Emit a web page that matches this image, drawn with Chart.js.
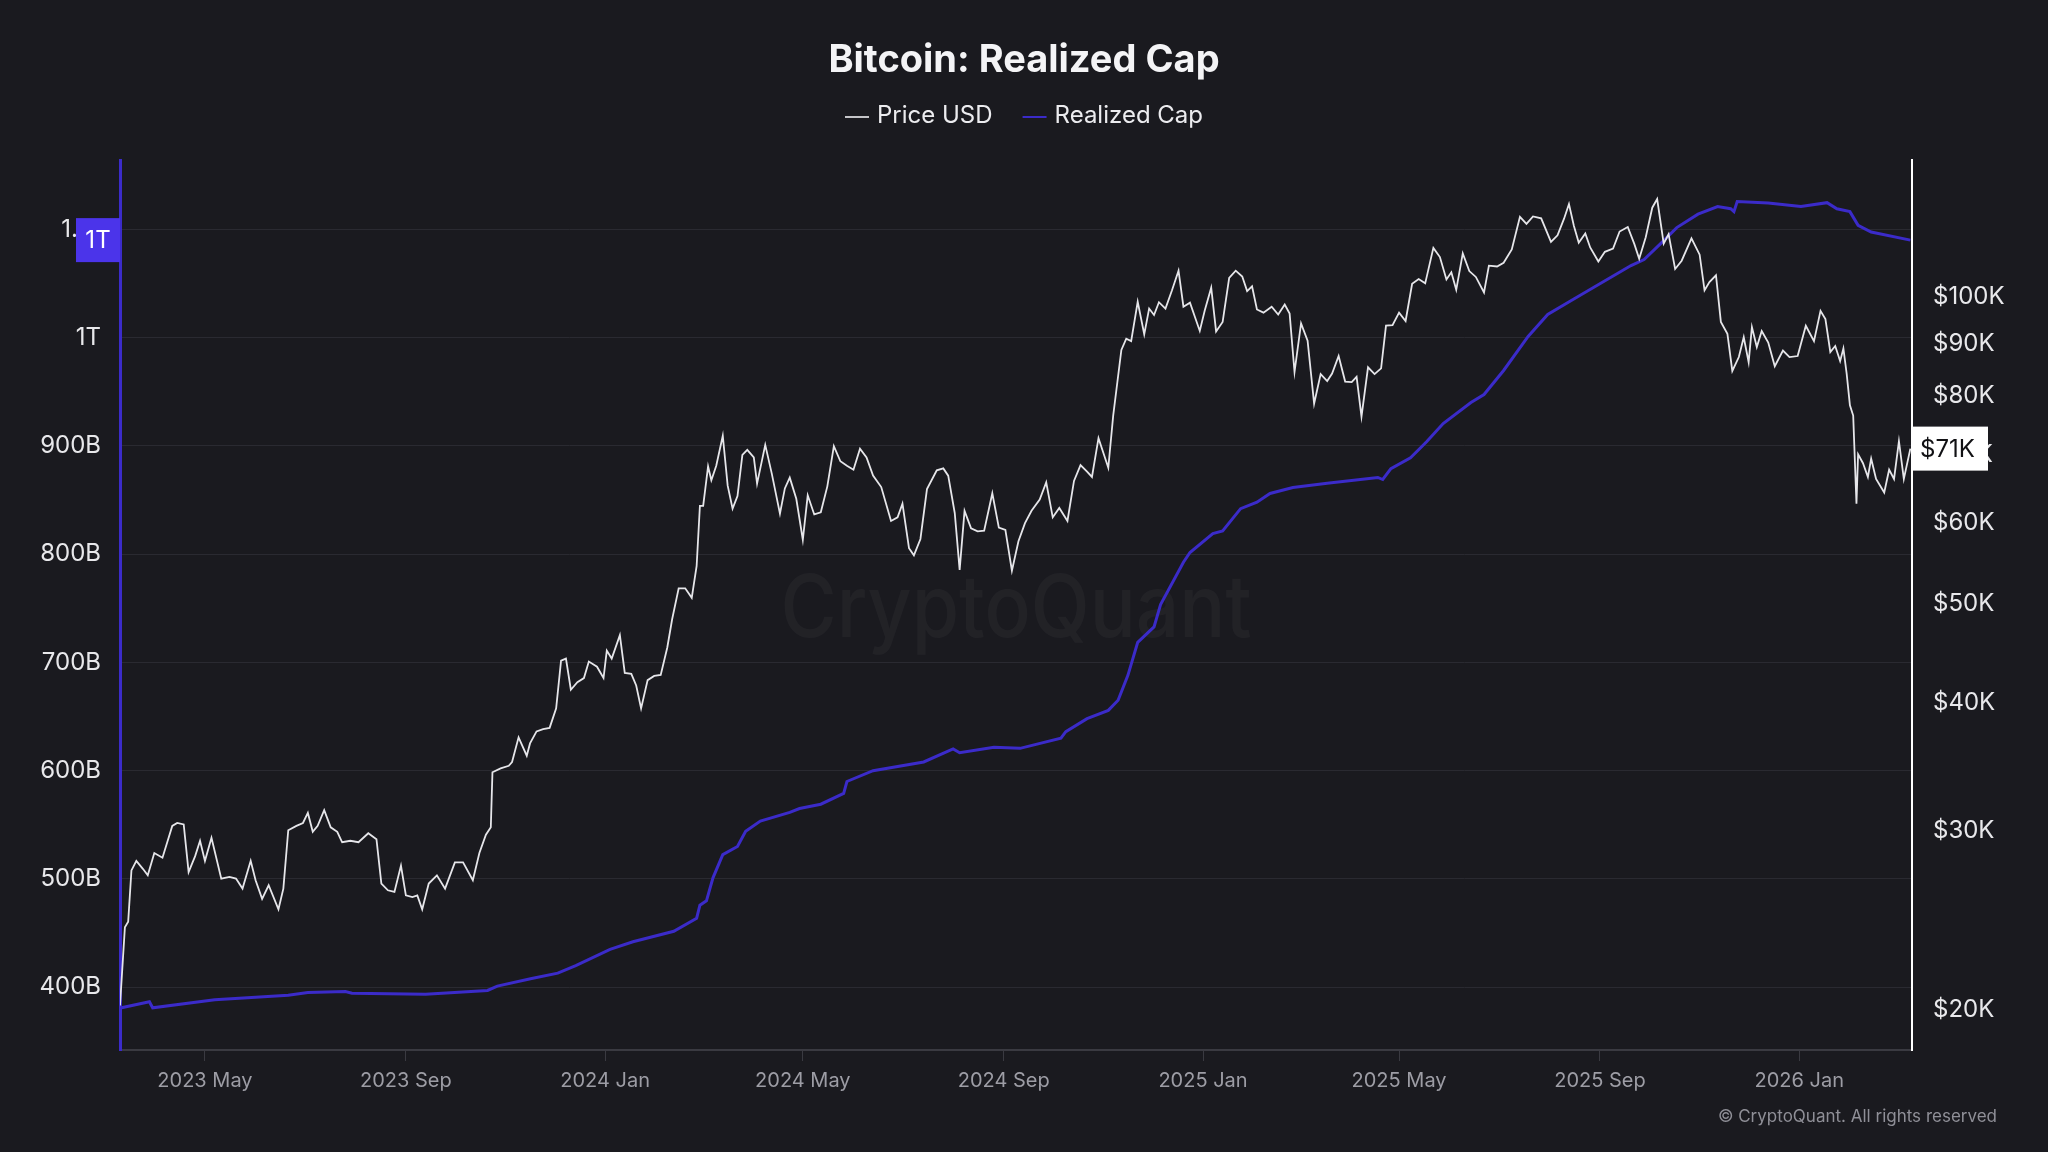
<!DOCTYPE html>
<html>
<head>
<meta charset="utf-8">
<title>Bitcoin: Realized Cap</title>
<script src="https://cdn.jsdelivr.net/npm/chart.js@4.4.1/dist/chart.umd.min.js"></script>
<style>
  html, body { margin: 0; padding: 0; background: #1a1a1f; }
  #wrap { width: 2048px; height: 1152px; position: relative; }
</style>
</head>
<body>
<div id="wrap"><canvas id="grafico"></canvas></div>
<script>
// Price USD, in thousands of dollars
const priceDates = [
  '2023-03-10','2023-03-13','2023-03-15','2023-03-17','2023-03-20','2023-03-24','2023-03-27','2023-03-31',
  '2023-04-05','2023-04-11','2023-04-14','2023-04-18','2023-04-21','2023-04-25','2023-04-28',
  '2023-05-01','2023-05-05','2023-05-11','2023-05-16','2023-05-20','2023-05-24','2023-05-29',
  '2023-06-01','2023-06-05','2023-06-09','2023-06-15','2023-06-18','2023-06-21','2023-06-26','2023-06-30',
  '2023-07-03','2023-07-06','2023-07-09','2023-07-13','2023-07-17','2023-07-21','2023-07-24','2023-07-29',
  '2023-08-03','2023-08-09','2023-08-14','2023-08-17','2023-08-21','2023-08-25','2023-08-29',
  '2023-09-01','2023-09-05','2023-09-08','2023-09-11','2023-09-15','2023-09-20','2023-09-25',
  '2023-10-01','2023-10-06','2023-10-12','2023-10-16','2023-10-20','2023-10-23','2023-10-24','2023-10-29',
  '2023-11-03','2023-11-05','2023-11-09','2023-11-14','2023-11-16','2023-11-20','2023-11-24','2023-11-28',
  '2023-12-02','2023-12-05','2023-12-08','2023-12-11','2023-12-15','2023-12-19','2023-12-22','2023-12-27','2023-12-31',
  '2024-01-02','2024-01-05','2024-01-10','2024-01-13','2024-01-17','2024-01-20','2024-01-23','2024-01-27','2024-01-31',
  '2024-02-04','2024-02-08','2024-02-11','2024-02-15','2024-02-19','2024-02-23','2024-02-26','2024-02-28',
  '2024-03-01','2024-03-04','2024-03-06','2024-03-09','2024-03-13','2024-03-16','2024-03-19','2024-03-22','2024-03-25','2024-03-28',
  '2024-04-01','2024-04-03','2024-04-08','2024-04-12','2024-04-17','2024-04-20','2024-04-23','2024-04-27',
  '2024-05-01','2024-05-04','2024-05-08','2024-05-12','2024-05-16','2024-05-20','2024-05-24','2024-05-28',
  '2024-06-01','2024-06-05','2024-06-09','2024-06-13','2024-06-18','2024-06-24','2024-06-28',
  '2024-07-01','2024-07-05','2024-07-08','2024-07-12','2024-07-16','2024-07-22','2024-07-26','2024-07-29',
  '2024-08-02','2024-08-05','2024-08-08','2024-08-12','2024-08-16','2024-08-20','2024-08-25','2024-08-29',
  '2024-09-02','2024-09-06','2024-09-10','2024-09-14','2024-09-18','2024-09-23','2024-09-27',
  '2024-10-01','2024-10-05','2024-10-10','2024-10-14','2024-10-18','2024-10-22','2024-10-25','2024-10-29',
  '2024-11-04','2024-11-07','2024-11-12','2024-11-15','2024-11-18','2024-11-22','2024-11-26','2024-11-29',
  '2024-12-02','2024-12-05','2024-12-09','2024-12-13','2024-12-17','2024-12-20','2024-12-24','2024-12-30',
  '2025-01-02','2025-01-06','2025-01-09','2025-01-13','2025-01-17','2025-01-21','2025-01-25','2025-01-28','2025-01-31',
  '2025-02-03','2025-02-07','2025-02-12','2025-02-16','2025-02-20','2025-02-23','2025-02-26',
  '2025-03-02','2025-03-06','2025-03-10','2025-03-14','2025-03-18','2025-03-21','2025-03-25','2025-03-29',
  '2025-04-02','2025-04-05','2025-04-08','2025-04-12','2025-04-16','2025-04-20','2025-04-23','2025-04-27',
  '2025-05-01','2025-05-05','2025-05-09','2025-05-13','2025-05-17','2025-05-22','2025-05-26','2025-05-30',
  '2025-06-02','2025-06-05','2025-06-09','2025-06-13','2025-06-17','2025-06-22','2025-06-25','2025-06-30',
  '2025-07-04','2025-07-09','2025-07-14','2025-07-18','2025-07-22','2025-07-27',
  '2025-08-02','2025-08-06','2025-08-10','2025-08-13','2025-08-16','2025-08-19','2025-08-23','2025-08-26','2025-08-31',
  '2025-09-04','2025-09-09','2025-09-13','2025-09-18','2025-09-22','2025-09-25','2025-09-29',
  '2025-10-03','2025-10-06','2025-10-10','2025-10-13','2025-10-17','2025-10-21','2025-10-27',
  '2025-11-01','2025-11-04','2025-11-07','2025-11-11','2025-11-14','2025-11-18','2025-11-21','2025-11-25','2025-11-28',
  '2025-12-01','2025-12-03','2025-12-06','2025-12-09','2025-12-13','2025-12-17','2025-12-22','2025-12-26','2025-12-31',
  '2026-01-05','2026-01-10','2026-01-14','2026-01-17','2026-01-20','2026-01-23','2026-01-26','2026-01-28','2026-01-30',
  '2026-02-01','2026-02-03','2026-02-05','2026-02-06','2026-02-09','2026-02-12','2026-02-14','2026-02-17','2026-02-22','2026-02-25','2026-02-28',
  '2026-03-03','2026-03-06','2026-03-10'
];
const priceValues = [
  20.2, 24.1, 24.4, 27.4, 28.0, 27.5, 27.1, 28.5,
  28.2, 30.3, 30.5, 30.4, 27.3, 28.3, 29.3,
  28.0, 29.5, 26.9, 27.0, 26.9, 26.3, 28.0,
  26.8, 25.7, 26.5, 25.1, 26.3, 30.0, 30.3, 30.5,
  31.2, 29.9, 30.3, 31.4, 30.2, 29.9, 29.2, 29.3,
  29.2, 29.8, 29.4, 26.6, 26.2, 26.1, 27.7,
  25.9, 25.8, 25.9, 25.1, 26.6, 27.1, 26.3,
  27.9, 27.9, 26.8, 28.5, 29.7, 30.2, 34.2, 34.5,
  34.7, 35.0, 37.0, 35.5, 36.5, 37.5, 37.7, 37.8,
  39.5, 44.0, 44.2, 41.2, 41.9, 42.3, 43.9, 43.4, 42.3,
  45.0, 44.2, 46.6, 42.8, 42.7, 41.6, 39.5, 42.1, 42.5,
  42.6, 45.3, 48.3, 51.8, 51.8, 50.7, 54.5, 62.4,
  62.4, 68.2, 66.1, 68.3, 73.1, 65.3, 62.0, 63.8, 70.0, 70.8,
  69.6, 65.6, 71.6, 67.1, 61.3, 64.9, 66.5, 63.4,
  57.8, 63.9, 61.2, 61.5, 65.2, 71.4, 69.0, 68.3,
  67.7, 71.0, 69.6, 66.8, 65.1, 60.3, 60.8,
  62.7, 56.7, 55.8, 57.9, 64.8, 67.6, 67.9, 66.8,
  61.4, 54.0, 61.7, 59.3, 58.9, 59.0, 64.2, 59.4,
  59.1, 53.9, 57.6, 60.0, 61.7, 63.3, 65.8,
  60.8, 62.1, 60.3, 66.0, 68.4, 67.4, 66.6, 72.7,
  68.0, 76.5, 88.7, 91.0, 90.5, 98.9, 91.9, 97.4,
  96.0, 98.8, 97.4, 101.5, 106.1, 97.8, 98.7, 92.6,
  96.9, 102.1, 92.5, 94.5, 104.4, 106.1, 104.7, 101.3, 102.4,
  97.2, 96.5, 97.8, 96.1, 98.3, 96.3, 84.4,
  94.2, 90.6, 78.6, 84.0, 82.7, 84.1, 87.5, 82.6,
  82.5, 83.5, 76.3, 85.3, 84.0, 85.1, 93.7, 93.8,
  96.5, 94.7, 103.0, 104.1, 103.1, 111.7, 109.4, 104.0,
  105.7, 101.6, 110.3, 106.0, 104.6, 101.0, 107.3, 107.1,
  108.0, 111.3, 119.8, 117.9, 119.9, 119.4,
  113.2, 114.9, 119.3, 123.3, 117.4, 113.0, 115.4, 111.8, 108.3,
  110.7, 111.5, 115.9, 117.1, 112.7, 109.0, 114.4,
  122.3, 124.7, 112.8, 115.2, 106.5, 108.5, 114.1,
  110.0, 101.5, 103.4, 105.0, 94.5, 92.0, 84.6, 87.3, 91.3,
  86.3, 93.4, 89.3, 92.6, 90.2, 85.5, 88.6, 87.3, 87.5,
  93.7, 90.5, 96.9, 95.1, 88.3, 89.5, 86.5, 89.0, 84.1,
  78.3, 76.5, 62.7, 70.1, 68.7, 66.6, 69.4, 66.3, 64.3, 67.7, 66.3,
  72.2, 66.3, 71.0
];

// Realized Cap, in billions of dollars
const capDates = [
  '2023-03-10','2023-03-11','2023-03-28','2023-03-30','2023-05-07','2023-06-21','2023-07-03','2023-07-26',
  '2023-07-30','2023-09-13','2023-10-21','2023-10-27','2023-11-17','2023-12-03','2023-12-14',
  '2024-01-04','2024-01-18','2024-02-12','2024-02-26','2024-02-28','2024-03-03','2024-03-07','2024-03-13',
  '2024-03-22','2024-03-27','2024-04-05','2024-04-23','2024-04-29','2024-05-12','2024-05-26','2024-05-28',
  '2024-06-13','2024-07-14','2024-08-01','2024-08-05','2024-08-26','2024-09-11','2024-10-06','2024-10-09',
  '2024-10-22','2024-11-04','2024-11-10','2024-11-16','2024-11-22','2024-12-02','2024-12-06','2024-12-20','2024-12-24',
  '2025-01-07','2025-01-13','2025-01-24','2025-02-03','2025-02-11','2025-02-25','2025-03-18','2025-04-18',
  '2025-04-21','2025-04-26','2025-05-08','2025-05-18','2025-05-28','2025-06-14','2025-06-22','2025-07-04',
  '2025-07-19','2025-07-31','2025-08-16','2025-08-28','2025-09-20','2025-09-28','2025-10-10','2025-10-18',
  '2025-10-31','2025-11-12','2025-11-20','2025-11-22','2025-11-24','2025-12-13',
  '2026-01-02','2026-01-18','2026-01-24','2026-02-01','2026-02-06','2026-02-14','2026-03-10'
];
const capValues = [
  380, 381, 386.5, 381, 388.5, 392.6, 395, 396,
  394.5, 393.6, 397, 401, 408, 413, 420,
  435, 442, 451.7, 463.7, 475.7, 479.8, 501, 522.5,
  530, 544, 553.5, 561.5, 565, 569, 579, 590,
  600, 608, 620, 616.5, 621.6, 620.6, 630, 636,
  648, 655.7, 665, 688, 718.5, 732.8, 753.5, 792.5, 801.5,
  819, 821.4, 842, 848, 856, 861.5, 865.4, 870.8,
  868.9, 879, 889, 904, 920.6, 940, 947.4, 969.6,
  1001, 1021.3, 1035.7, 1046.2, 1066.5, 1072, 1089.6, 1101.6,
  1114, 1121, 1119, 1116.3, 1125.6, 1124.3,
  1121, 1124.6, 1119, 1116.3, 1103.7, 1097.5, 1090
];

// axis ticks
const capTicks = [400, 500, 600, 700, 800, 900, 1000, 1100];
const priceTicks = [20, 30, 40, 50, 60, 70, 80, 90, 100];
const monthTicks = ['2023-05-01','2023-09-01','2024-01-01','2024-05-01','2024-09-01','2025-01-01','2025-05-01','2025-09-01','2026-01-01'];
const monthLabels = ['2023 May','2023 Sep','2024 Jan','2024 May','2024 Sep','2025 Jan','2025 May','2025 Sep','2026 Jan'];

const PURPLE = '#3b2bc9';

Chart.defaults.font.family = 'Inter, "Noto Sans", sans-serif';

const fondo = {
  id: 'fondo',
  beforeDraw(chart) {
    const {ctx, width, height} = chart;
    ctx.save();
    ctx.fillStyle = '#1a1a1f';
    ctx.fillRect(0, 0, width, height);
    ctx.restore();
  }
};

// faint watermark behind the lines
const marcaAgua = {
  id: 'marcaAgua',
  beforeDatasetsDraw(chart) {
    const {ctx, chartArea: a} = chart;
    ctx.save();
    ctx.font = '500 86px Inter';
    const w = ctx.measureText('CryptoQuant').width;
    ctx.translate((a.left + a.right) / 2, (a.top + a.bottom) / 2 + 32);
    ctx.scale(471 / w, 1);
    ctx.fillStyle = 'rgba(255,255,255,0.035)';
    ctx.textAlign = 'center';
    ctx.fillText('CryptoQuant', 0, 0);
    ctx.restore();
  }
};

// title + legend at the top
const cabecera = {
  id: 'cabecera',
  afterDraw(chart) {
    const {ctx, width} = chart;
    ctx.save();
    ctx.fillStyle = '#f4f4f6';
    ctx.font = '700 38px Inter';
    ctx.textAlign = 'center';
    ctx.fillText('Bitcoin: Realized Cap', width / 2, 72);

    ctx.font = '24px Inter';
    const items = chart.data.datasets.map(ds => ({
      label: ds.label,
      color: ds.legendColor,
      w: 24 + 8 + ctx.measureText(ds.label).width
    }));
    const gap = 30;
    const total = items.reduce((s, it) => s + it.w, 0) + gap * (items.length - 1);
    let x = width / 2 - total / 2;
    ctx.textAlign = 'left';
    items.forEach(it => {
      ctx.strokeStyle = it.color;
      ctx.lineWidth = 2;
      ctx.beginPath();
      ctx.moveTo(x, 117);
      ctx.lineTo(x + 24, 117);
      ctx.stroke();
      ctx.fillStyle = '#ececef';
      ctx.fillText(it.label, x + 32, 123);
      x += it.w + gap;
    });
    ctx.restore();
  }
};

// last value badges and copyright
const etiquetas = {
  id: 'etiquetas',
  afterDraw(chart) {
    const {ctx, chartArea: a, scales} = chart;
    const cap = capValues[capValues.length - 1];
    const price = priceValues[priceValues.length - 1];
    const yc = scales.y.getPixelForValue(cap);
    const yp = scales.y1.getPixelForValue(price);
    ctx.save();
    ctx.font = '24px Inter';
    ctx.textBaseline = 'middle';

    ctx.fillStyle = '#4b34ea';
    ctx.fillRect(a.left - 44, yc - 22, 44, 44);
    ctx.fillStyle = '#ffffff';
    ctx.textAlign = 'center';
    ctx.fillText(Math.floor(cap / 1000) + 'T', a.left - 22, yc + 1);

    ctx.fillStyle = '#ffffff';
    ctx.fillRect(a.right, yp - 22, 76, 44);
    ctx.fillStyle = '#111114';
    ctx.textAlign = 'left';
    ctx.fillText('$' + Math.round(price) + 'K', a.right + 8, yp + 1);

    ctx.font = '17px Inter';
    ctx.fillStyle = '#8f8f97';
    ctx.textAlign = 'right';
    ctx.fillText('© CryptoQuant. All rights reserved', 1997, 1117);
    ctx.restore();
  }
};

const grafico = document.getElementById('grafico');

new Chart(grafico, {
  type: 'line',
  data: {
    datasets: [
      {
        label: 'Price USD',
        data: priceDates.map((d, i) => ({x: Date.parse(d), y: priceValues[i]})),
        yAxisID: 'y1',
        borderColor: '#e6e6ea',
        legendColor: '#c4c4c8',
        borderWidth: 1.8,
        pointRadius: 0,
        tension: 0
      },
      {
        label: 'Realized Cap',
        data: capDates.map((d, i) => ({x: Date.parse(d), y: capValues[i]})),
        yAxisID: 'y',
        borderColor: PURPLE,
        legendColor: PURPLE,
        borderWidth: 3,
        pointRadius: 0,
        tension: 0
      }
    ]
  },
  options: {
    responsive: true,
    maintainAspectRatio: false,
    devicePixelRatio: 1,
    animation: false,
    events: [],
    layout: { padding: { top: 160, left: 0, right: 0, bottom: 0 } },
    plugins: {
      legend: { display: false },
      title: { display: false },
      tooltip: { enabled: false }
    },
    scales: {
      x: {
        type: 'linear',
        min: Date.parse('2023-03-10'),
        max: Date.parse('2026-03-11'),
        afterBuildTicks: s => { s.ticks = monthTicks.map(d => ({value: Date.parse(d)})); },
        afterFit: s => { s.height = 102; },
        grid: { drawOnChartArea: false, drawTicks: true, tickLength: 11, color: '#3a3a41', lineWidth: 1 },
        border: { color: '#3a3a41', width: 2 },
        ticks: {
          color: '#9d9da5',
          font: { size: 20 },
          padding: 8,
          maxRotation: 0,
          autoSkip: false,
          callback: (v, i) => monthLabels[i]
        }
      },
      y: {
        type: 'linear',
        position: 'left',
        min: 342,
        max: 1164,
        afterBuildTicks: s => { s.ticks = capTicks.map(v => ({value: v})); },
        afterFit: s => { s.width = 120; },
        grid: { color: '#2a2a31', drawTicks: false, lineWidth: 1 },
        border: { color: PURPLE, width: 3 },
        ticks: {
          color: '#e8e8eb',
          font: { size: 24 },
          padding: 19,
          callback: v => v >= 1000 ? parseFloat((v / 1000).toFixed(2)) + 'T' : v + 'B'
        }
      },
      y1: {
        type: 'logarithmic',
        position: 'right',
        min: 18.27,
        max: 136.2,
        afterBuildTicks: s => { s.ticks = priceTicks.map(v => ({value: v})); },
        afterFit: s => { s.width = 136; },
        grid: { drawOnChartArea: false, drawTicks: false },
        border: { color: '#ffffff', width: 2 },
        ticks: {
          color: '#e8e8eb',
          font: { size: 24 },
          padding: 21,
          callback: v => '$' + v + 'K'
        }
      }
    }
  },
  plugins: [fondo, marcaAgua, cabecera, etiquetas]
});
</script>
</body>
</html>
